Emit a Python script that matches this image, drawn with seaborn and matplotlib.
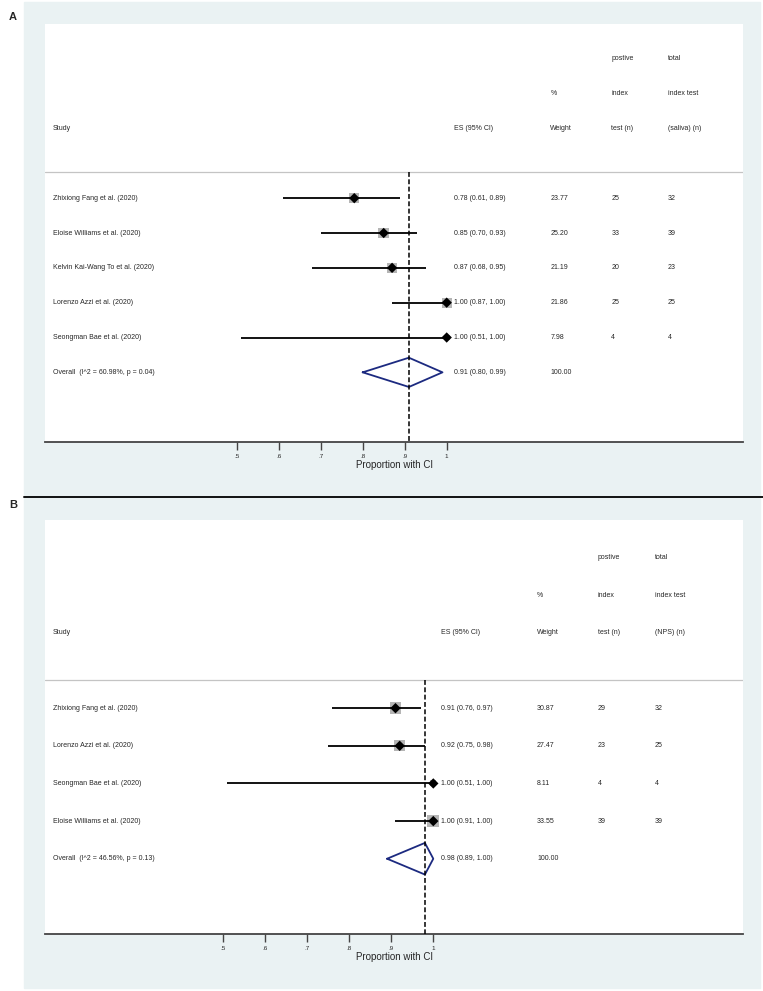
import numpy as np
import pandas as pd
import seaborn as sns
import matplotlib.pyplot as plt
from matplotlib.patches import Rectangle
from matplotlib.lines import Line2D

# --- DATA: panel A (saliva) ---
studier_a = ["Zhixiong Fang et al. (2020)", "Eloise Williams et al. (2020)",
             "Kelvin Kai-Wang To et al. (2020)", "Lorenzo Azzi et al. (2020)",
             "Seongman Bae et al. (2020)"]
es_a = [0.78, 0.85, 0.87, 1.00, 1.00]
lo_a = [0.61, 0.70, 0.68, 0.87, 0.51]
hi_a = [0.89, 0.93, 0.95, 1.00, 1.00]
vikt_a = [23.77, 25.20, 21.19, 21.86, 7.98]
pos_a = [25, 33, 20, 25, 4]
tot_a = [32, 39, 23, 25, 4]
overall_a = (0.91, 0.80, 0.99)
het_a = "Overall  (I^2 = 60.98%, p = 0.04)"

# --- DATA: panel B (NPS) ---
studier_b = ["Zhixiong Fang et al. (2020)", "Lorenzo Azzi et al. (2020)",
             "Seongman Bae et al. (2020)", "Eloise Williams et al. (2020)"]
es_b = [0.91, 0.92, 1.00, 1.00]
lo_b = [0.76, 0.75, 0.51, 0.91]
hi_b = [0.97, 0.98, 1.00, 1.00]
vikt_b = [30.87, 27.47, 8.11, 33.55]
pos_b = [29, 23, 4, 39]
tot_b = [32, 25, 4, 39]
overall_b = (0.98, 0.89, 1.00)
het_b = "Overall  (I^2 = 46.56%, p = 0.13)"

tick_vals = [0.5, 0.6, 0.7, 0.8, 0.9, 1.0]
tick_labels = [".5", ".6", ".7", ".8", ".9", "1"]

# --- STIL ---
sns.set_style("white")
plt.rcParams['font.family'] = ['Liberation Sans', 'DejaVu Sans']

BG = "#eaf2f3"
NAVY = "#1c2a80"
FS = 5.0
W, H = 763, 991

fig = plt.figure(figsize=(W / 100, H / 100), dpi=100)
fig.patch.set_facecolor("white")

# panel-bakgrunder (under axlarna)
fig.patches.append(Rectangle((24 / W, 1 - 497 / H), (760 - 24) / W, (497 - 2) / H,
                             transform=fig.transFigure, color=BG, zorder=-10))
fig.patches.append(Rectangle((24 / W, 1 - 988 / H), (760 - 24) / W, (988 - 497) / H,
                             transform=fig.transFigure, color=BG, zorder=-10))
fig.add_artist(Line2D([24 / W, 1], [1 - 497 / H, 1 - 497 / H], transform=fig.transFigure,
                      color="#111111", lw=1.4))


def rita_panel(ax, studier, es, lo, hi, vikt, pos, tot, overall, het, sista_kol, xlim):
    n = len(studier)
    df = pd.DataFrame({"rad": np.arange(n), "es": es, "lo": lo, "hi": hi, "vikt": vikt})

    ax.set_facecolor("white")
    ax.set_xlim(*xlim)
    ax.set_ylim(n + 2, -5)

    # gråa viktrutor + konfidensintervall + punktskattning
    sns.scatterplot(data=df, x="es", y="rad", size="vikt", sizes=(0, 90), size_norm=(0, 40),
                    marker="s", color="#b5b5b5", edgecolor="none", legend=False, ax=ax, zorder=2)
    ax.hlines(df["rad"], df["lo"], df["hi"], color="black", lw=1.3, zorder=3)
    sns.scatterplot(data=df, x="es", y="rad", marker="D", color="black", s=28,
                    edgecolor="none", legend=False, ax=ax, zorder=4)

    # overall-diamant
    m, l, h = overall
    d = 0.42
    ax.plot([l, m, h, m, l], [n, n - d, n, n + d, n], color=NAVY, lw=1.3, zorder=4)
    ax.vlines(m, -0.75, n + 2, color="black", lw=1.1, linestyles=(0, (3.2, 1.6)), zorder=5)

    # separator under rubriker
    ax.axhline(-0.75, color="#c4c4c4", lw=0.9)

    # kolumner
    es_x, w_x, p_x, t_x = 1.018, 1.247, 1.392, 1.527
    tr = ax.get_yaxis_transform()
    kw = dict(fontsize=FS, va="center", ha="left")
    ax.text(0.0115, -2, "Study", transform=tr, **kw)
    ax.text(es_x, -2, "ES (95% CI)", **kw)
    ax.text(w_x, -3, "%", **kw)
    ax.text(w_x, -2, "Weight", **kw)
    ax.text(p_x, -4, "postive", **kw)
    ax.text(p_x, -3, "index", **kw)
    ax.text(p_x, -2, "test (n)", **kw)
    ax.text(t_x, -4, "total", **kw)
    ax.text(t_x, -3, "index test", **kw)
    ax.text(t_x, -2, sista_kol, **kw)

    for i in range(n):
        ax.text(0.0115, i, studier[i], transform=tr, **kw)
        ax.text(es_x, i, f"{es[i]:.2f} ({lo[i]:.2f}, {hi[i]:.2f})", **kw)
        ax.text(w_x, i, f"{vikt[i]:.2f}", **kw)
        ax.text(p_x, i, str(pos[i]), **kw)
        ax.text(t_x, i, str(tot[i]), **kw)
    ax.text(0.0115, n, het, transform=tr, **kw)
    ax.text(es_x, n, f"{m:.2f} ({l:.2f}, {h:.2f})", **kw)
    ax.text(w_x, n, "100.00", **kw)

    # x-axel
    for s in ["top", "left", "right"]:
        ax.spines[s].set_visible(False)
    ax.spines["bottom"].set_color("#444444")
    ax.spines["bottom"].set_linewidth(1.3)
    ax.set_yticks([])
    ax.set_xticks(tick_vals)
    ax.set_xticklabels(tick_labels, fontsize=4.5)
    ax.tick_params(axis="x", bottom=True, length=5.5, width=1.0, color="#444444", pad=3)
    ax.set_xlabel("Proportion with CI", fontsize=7.0, labelpad=1)
    ax.set_ylabel("")


ax_a = fig.add_axes([45 / W, 1 - 442 / H, (743 - 45) / W, (442 - 24) / H])
rita_panel(ax_a, studier_a, es_a, lo_a, hi_a, vikt_a, pos_a, tot_a, overall_a, het_a,
           "(saliva) (n)", (0.0436, 1.7055))

ax_b = fig.add_axes([45 / W, 1 - 934 / H, (743 - 45) / W, (934 - 520) / H])
rita_panel(ax_b, studier_b, es_b, lo_b, hi_b, vikt_b, pos_b, tot_b, overall_b, het_b,
           "(NPS) (n)", (0.0755, 1.7374))

fig.text(13 / W, 1 - 17 / H, "A", fontsize=8, fontweight="bold", ha="center", va="center")
fig.text(13 / W, 1 - 505 / H, "B", fontsize=8, fontweight="bold", ha="center", va="center")

fig.savefig("out.png", dpi=100, facecolor="white")
